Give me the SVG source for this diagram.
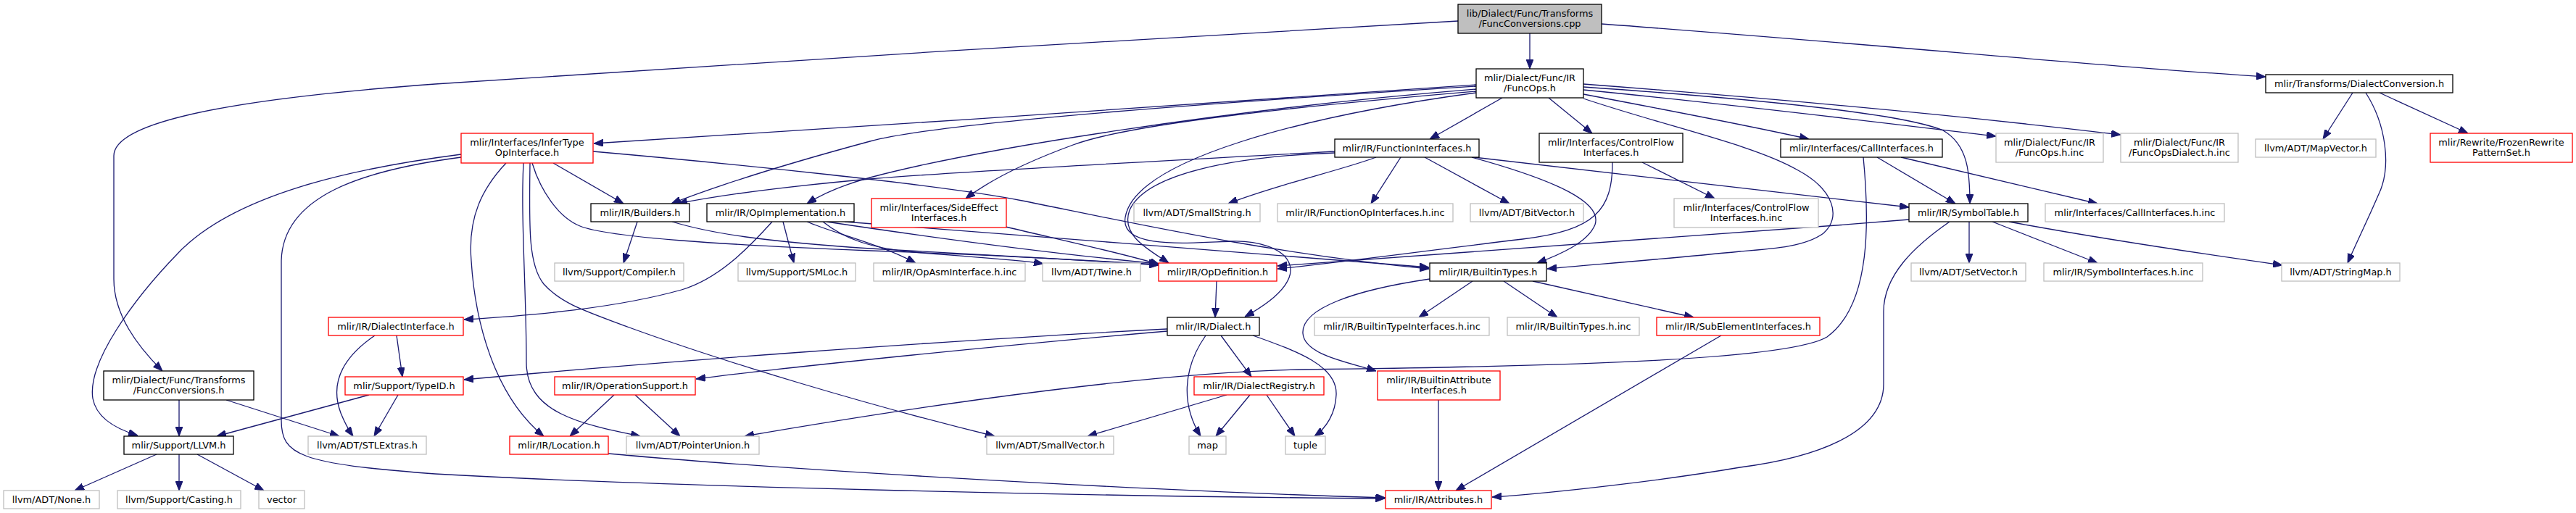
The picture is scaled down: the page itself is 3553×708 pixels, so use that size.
<svg xmlns="http://www.w3.org/2000/svg" width="3553" height="708" viewBox="0 0 3553 708">
<defs>
<marker id="ah" viewBox="0 0 13 10" refX="13" refY="5" markerWidth="13" markerHeight="10" markerUnits="userSpaceOnUse" orient="auto">
<path d="M0,0L13,5L0,10z" fill="#191970" stroke="#191970" stroke-width="1"/>
</marker>
<style>
rect{fill:#fff;stroke-width:1.3}
.n rect{stroke:#000}
.g rect{stroke:#bfbfbf}
.r rect{stroke:#ff0000}
.root rect{fill:#bfbfbf;stroke:#000}
text{font-family:"DejaVu Sans","Liberation Sans",sans-serif;font-size:12.9px;fill:#000;text-anchor:middle}
#edges path{fill:none;stroke:#191970;stroke-width:1.3;marker-end:url(#ah)}
</style>
</defs>
<rect x="0" y="0" width="3553" height="708" style="fill:#fff;stroke:none"/>
<g id="edges">
<path d="M2110,46 L2110,95"/>
<path d="M2011,29 C1700,45 900,95 600,116 C380,132 157,160 157,215 L157,385 C157,435 190,478 224,512"/>
<path d="M2209,33 C2600,62 2900,92 3125,106"/>
<path d="M2036,117 C1700,140 1200,175 819,198"/>
<path d="M2036,119 C1700,140 1300,168 1200,195 C1100,222 1000,252 926,281"/>
<path d="M2036,123 C1700,150 1350,205 1200,245 C1160,256 1135,267 1113,281"/>
<path d="M2036,126 C1800,146 1560,170 1480,200 C1420,222 1370,245 1332,274"/>
<path d="M2036,128 C1800,160 1565,220 1552,300 C1545,345 1640,335 1700,333 C1770,331 1830,375 1717,437"/>
<path d="M2072,135 L1972,192"/>
<path d="M2136,135 L2196,184"/>
<path d="M2184,130 C2300,152 2420,175 2495,192"/>
<path d="M2184,120 C2400,135 2620,155 2680,180 C2715,200 2717,240 2717,281"/>
<path d="M2184,124 C2400,145 2600,170 2753,188"/>
<path d="M2184,116 C2500,140 2750,165 2925,186"/>
<path d="M2184,136 C2300,175 2420,200 2480,235 C2530,262 2540,300 2515,322 C2490,340 2450,343 2400,347 C2300,357 2200,365 2134,371"/>
<path d="M1841,209 C1600,222 1300,238 1200,247 C1100,256 1000,268 935,281"/>
<path d="M1841,211 C1700,216 1580,240 1558,290 C1545,325 1585,345 1612,363"/>
<path d="M1898,217 C1850,235 1760,255 1694,281"/>
<path d="M1932,217 L1891,281"/>
<path d="M1965,217 L2082,281"/>
<path d="M2030,217 C2150,250 2210,280 2200,310 C2190,335 2150,352 2120,363"/>
<path d="M2033,217 L2633,286"/>
<path d="M2265,224 L2365,274"/>
<path d="M2224,224 C2224,290 2200,318 2100,330 C1950,348 1850,362 1762,371"/>
<path d="M2589,217 L2697,281"/>
<path d="M2622,217 L2893,281"/>
<path d="M2570,217 C2578,300 2582,420 2520,465 C2470,495 2200,505 1800,510 C1600,513 1300,555 1027,602"/>
<path d="M2633,303 C2300,330 1950,355 1762,367"/>
<path d="M2716,306 L2716,363"/>
<path d="M2748,306 L2893,363"/>
<path d="M2771,306 C2900,330 3050,352 3148,366"/>
<path d="M2689,306 C2640,340 2598,380 2598,430 L2598,530 C2598,600 2500,632 2400,645 C2300,662 2150,680 2058,686"/>
<path d="M3245,128 L3204,192"/>
<path d="M3263,128 C3290,170 3300,230 3280,270 C3265,305 3250,335 3238,363"/>
<path d="M3282,128 L3404,184"/>
<path d="M763,225 L860,281"/>
<path d="M734,225 C745,262 770,300 800,312 C840,328 1000,338 1200,346 C1400,353 1500,359 1598,366"/>
<path d="M818,209 C1000,225 1300,255 1410,277 C1550,305 1750,350 1971,371"/>
<path d="M636,213 C520,228 330,260 245,350 C185,412 120,500 128,550 C133,577 160,592 190,601"/>
<path d="M636,217 C500,235 390,270 388,360 L388,580 C388,628 412,640 600,654 C900,671 1500,685 1910,688"/>
<path d="M698,225 C665,260 645,300 650,360 C655,440 680,545 750,602"/>
<path d="M722,225 C718,300 726,400 726,500 C726,570 800,585 883,602"/>
<path d="M731,225 C730,310 728,365 750,392 C775,420 810,430 868,452 C1000,500 1200,560 1372,602"/>
<path d="M879,306 L860,363"/>
<path d="M927,306 C980,322 1050,333 1200,343 C1400,355 1500,360 1598,365"/>
<path d="M1065,306 C1030,345 990,385 940,400 C850,425 740,435 640,441"/>
<path d="M1080,306 L1095,363"/>
<path d="M1113,306 C1150,322 1210,335 1263,363"/>
<path d="M1135,306 C1165,330 1200,342 1260,348 C1330,354 1400,358 1439,364"/>
<path d="M1140,306 C1300,330 1450,350 1598,364"/>
<path d="M1165,306 C1400,325 1750,350 1971,369"/>
<path d="M1387,313 C1480,335 1550,350 1599,365"/>
<path d="M1678,388 L1676,438"/>
<path d="M1610,454 C1300,470 900,500 640,524"/>
<path d="M1610,457 C1400,475 1100,505 960,523"/>
<path d="M1663,463 C1630,510 1630,560 1656,602"/>
<path d="M1684,463 L1726,520"/>
<path d="M1728,463 C1790,485 1845,505 1843,545 C1842,570 1830,590 1813,602"/>
<path d="M1692,545 L1500,602"/>
<path d="M1724,545 L1677,602"/>
<path d="M1747,545 L1786,602"/>
<path d="M2031,388 L1957,438"/>
<path d="M2074,388 L2148,438"/>
<path d="M2114,388 L2336,438"/>
<path d="M1972,385 C1870,400 1795,425 1797,460 C1799,490 1860,500 1898,512"/>
<path d="M2374,463 L2008,677"/>
<path d="M1984,552 L1984,677"/>
<path d="M839,626 C1100,650 1600,678 1911,687"/>
<path d="M847,545 L786,602"/>
<path d="M876,545 L938,602"/>
<path d="M547,463 L555,520"/>
<path d="M517,463 C470,495 455,530 470,570 C476,585 482,595 487,602"/>
<path d="M509,545 L299,602"/>
<path d="M549,545 L516,602"/>
<path d="M247,552 L247,602"/>
<path d="M312,552 L468,602"/>
<path d="M216,627 L103,677"/>
<path d="M247,627 L247,677"/>
<path d="M272,627 L364,677"/>
</g>
<g id="root" class="root"><rect x="2011" y="6" width="198" height="40"/><text x="2110" y="23">lib/Dialect/Func/Transforms</text><text x="2110" y="37">/FuncConversions.cpp</text></g>
<g id="funcops" class="n"><rect x="2036" y="95" width="148" height="40"/><text x="2110" y="112">mlir/Dialect/Func/IR</text><text x="2110" y="126">/FuncOps.h</text></g>
<g id="funcconvh" class="n"><rect x="143" y="512" width="207" height="40"/><text x="246.5" y="529">mlir/Dialect/Func/Transforms</text><text x="246.5" y="543">/FuncConversions.h</text></g>
<g id="dialectconv" class="n"><rect x="3125" y="103" width="258" height="25"/><text x="3254" y="119.5">mlir/Transforms/DialectConversion.h</text></g>
<g id="infertype" class="r"><rect x="636" y="184" width="182" height="41"/><text x="727" y="201">mlir/Interfaces/InferType</text><text x="727" y="215">OpInterface.h</text></g>
<g id="builders" class="n"><rect x="815" y="281" width="136" height="25"/><text x="883" y="297.5">mlir/IR/Builders.h</text></g>
<g id="opimpl" class="n"><rect x="975" y="281" width="203" height="25"/><text x="1076.5" y="297.5">mlir/IR/OpImplementation.h</text></g>
<g id="sideeffect" class="r"><rect x="1202" y="274" width="186" height="40"/><text x="1295" y="291">mlir/Interfaces/SideEffect</text><text x="1295" y="305">Interfaces.h</text></g>
<g id="smallstring" class="g"><rect x="1564" y="281" width="174" height="25"/><text x="1651" y="297.5">llvm/ADT/SmallString.h</text></g>
<g id="funcopiface_inc" class="g"><rect x="1762" y="281" width="242" height="25"/><text x="1883" y="297.5">mlir/IR/FunctionOpInterfaces.h.inc</text></g>
<g id="funciface" class="n"><rect x="1841" y="192" width="199" height="25"/><text x="1940.5" y="208.5">mlir/IR/FunctionInterfaces.h</text></g>
<g id="bitvector" class="g"><rect x="2028" y="281" width="156" height="25"/><text x="2106" y="297.5">llvm/ADT/BitVector.h</text></g>
<g id="controlflow" class="n"><rect x="2123" y="184" width="198" height="40"/><text x="2222" y="201">mlir/Interfaces/ControlFlow</text><text x="2222" y="215">Interfaces.h</text></g>
<g id="controlflow_inc" class="g"><rect x="2309" y="274" width="199" height="40"/><text x="2408.5" y="291">mlir/Interfaces/ControlFlow</text><text x="2408.5" y="305">Interfaces.h.inc</text></g>
<g id="callifaces" class="n"><rect x="2456" y="192" width="223" height="25"/><text x="2567.5" y="208.5">mlir/Interfaces/CallInterfaces.h</text></g>
<g id="funcops_inc" class="g"><rect x="2753" y="184" width="148" height="40"/><text x="2827" y="201">mlir/Dialect/Func/IR</text><text x="2827" y="215">/FuncOps.h.inc</text></g>
<g id="funcopsdialect_inc" class="g"><rect x="2925" y="184" width="162" height="40"/><text x="3006" y="201">mlir/Dialect/Func/IR</text><text x="3006" y="215">/FuncOpsDialect.h.inc</text></g>
<g id="symboltable" class="n"><rect x="2633" y="281" width="164" height="25"/><text x="2715" y="297.5">mlir/IR/SymbolTable.h</text></g>
<g id="calliface_inc" class="g"><rect x="2821" y="281" width="247" height="25"/><text x="2944.5" y="297.5">mlir/Interfaces/CallInterfaces.h.inc</text></g>
<g id="mapvector" class="g"><rect x="3111" y="192" width="166" height="25"/><text x="3194" y="208.5">llvm/ADT/MapVector.h</text></g>
<g id="frozen" class="r"><rect x="3352" y="184" width="196" height="40"/><text x="3450" y="201">mlir/Rewrite/FrozenRewrite</text><text x="3450" y="215">PatternSet.h</text></g>
<g id="opasm_inc" class="g"><rect x="1205" y="363" width="209" height="25"/><text x="1309.5" y="379.5">mlir/IR/OpAsmInterface.h.inc</text></g>
<g id="twine" class="g"><rect x="1438" y="363" width="135" height="25"/><text x="1505.5" y="379.5">llvm/ADT/Twine.h</text></g>
<g id="opdef" class="r"><rect x="1598" y="363" width="163" height="25"/><text x="1679.5" y="379.5">mlir/IR/OpDefinition.h</text></g>
<g id="builtintypes" class="n"><rect x="1972" y="363" width="161" height="25"/><text x="2052.5" y="379.5">mlir/IR/BuiltinTypes.h</text></g>
<g id="setvector" class="g"><rect x="2636" y="363" width="158" height="25"/><text x="2715" y="379.5">llvm/ADT/SetVector.h</text></g>
<g id="symiface_inc" class="g"><rect x="2819" y="363" width="219" height="25"/><text x="2928.5" y="379.5">mlir/IR/SymbolInterfaces.h.inc</text></g>
<g id="stringmap" class="g"><rect x="3147" y="363" width="163" height="25"/><text x="3228.5" y="379.5">llvm/ADT/StringMap.h</text></g>
<g id="compiler" class="g"><rect x="765" y="363" width="178" height="25"/><text x="854" y="379.5">llvm/Support/Compiler.h</text></g>
<g id="smloc" class="g"><rect x="1018" y="363" width="162" height="25"/><text x="1099" y="379.5">llvm/Support/SMLoc.h</text></g>
<g id="dialectiface" class="r"><rect x="453" y="438" width="186" height="25"/><text x="546" y="454.5">mlir/IR/DialectInterface.h</text></g>
<g id="dialect" class="n"><rect x="1610" y="438" width="127" height="25"/><text x="1673.5" y="454.5">mlir/IR/Dialect.h</text></g>
<g id="bti_inc" class="g"><rect x="1813" y="438" width="241" height="25"/><text x="1933.5" y="454.5">mlir/IR/BuiltinTypeInterfaces.h.inc</text></g>
<g id="bt_inc" class="g"><rect x="2079" y="438" width="182" height="25"/><text x="2170" y="454.5">mlir/IR/BuiltinTypes.h.inc</text></g>
<g id="subelement" class="r"><rect x="2285" y="438" width="225" height="25"/><text x="2397.5" y="454.5">mlir/IR/SubElementInterfaces.h</text></g>
<g id="typeid" class="r"><rect x="476" y="520" width="163" height="25"/><text x="557.5" y="536.5">mlir/Support/TypeID.h</text></g>
<g id="opsupport" class="r"><rect x="765" y="520" width="194" height="25"/><text x="862" y="536.5">mlir/IR/OperationSupport.h</text></g>
<g id="dialectreg" class="r"><rect x="1647" y="520" width="179" height="25"/><text x="1736.5" y="536.5">mlir/IR/DialectRegistry.h</text></g>
<g id="builtinattr" class="r"><rect x="1900" y="512" width="169" height="40"/><text x="1984.5" y="529">mlir/IR/BuiltinAttribute</text><text x="1984.5" y="543">Interfaces.h</text></g>
<g id="llvmh" class="n"><rect x="171" y="602" width="151" height="25"/><text x="246.5" y="618.5">mlir/Support/LLVM.h</text></g>
<g id="stlextras" class="g"><rect x="425" y="602" width="163" height="25"/><text x="506.5" y="618.5">llvm/ADT/STLExtras.h</text></g>
<g id="location" class="r"><rect x="703" y="602" width="136" height="25"/><text x="771" y="618.5">mlir/IR/Location.h</text></g>
<g id="pointerunion" class="g"><rect x="864" y="602" width="183" height="25"/><text x="955.5" y="618.5">llvm/ADT/PointerUnion.h</text></g>
<g id="smallvector" class="g"><rect x="1361" y="602" width="175" height="25"/><text x="1448.5" y="618.5">llvm/ADT/SmallVector.h</text></g>
<g id="map" class="g"><rect x="1640" y="602" width="51" height="25"/><text x="1665.5" y="618.5">map</text></g>
<g id="tuple" class="g"><rect x="1773" y="602" width="55" height="25"/><text x="1800.5" y="618.5">tuple</text></g>
<g id="none" class="g"><rect x="5" y="677" width="132" height="25"/><text x="71" y="693.5">llvm/ADT/None.h</text></g>
<g id="casting" class="g"><rect x="162" y="677" width="170" height="25"/><text x="247" y="693.5">llvm/Support/Casting.h</text></g>
<g id="vector" class="g"><rect x="357" y="677" width="63" height="25"/><text x="388.5" y="693.5">vector</text></g>
<g id="attributes" class="r"><rect x="1911" y="677" width="146" height="25"/><text x="1984" y="693.5">mlir/IR/Attributes.h</text></g>
</svg>
